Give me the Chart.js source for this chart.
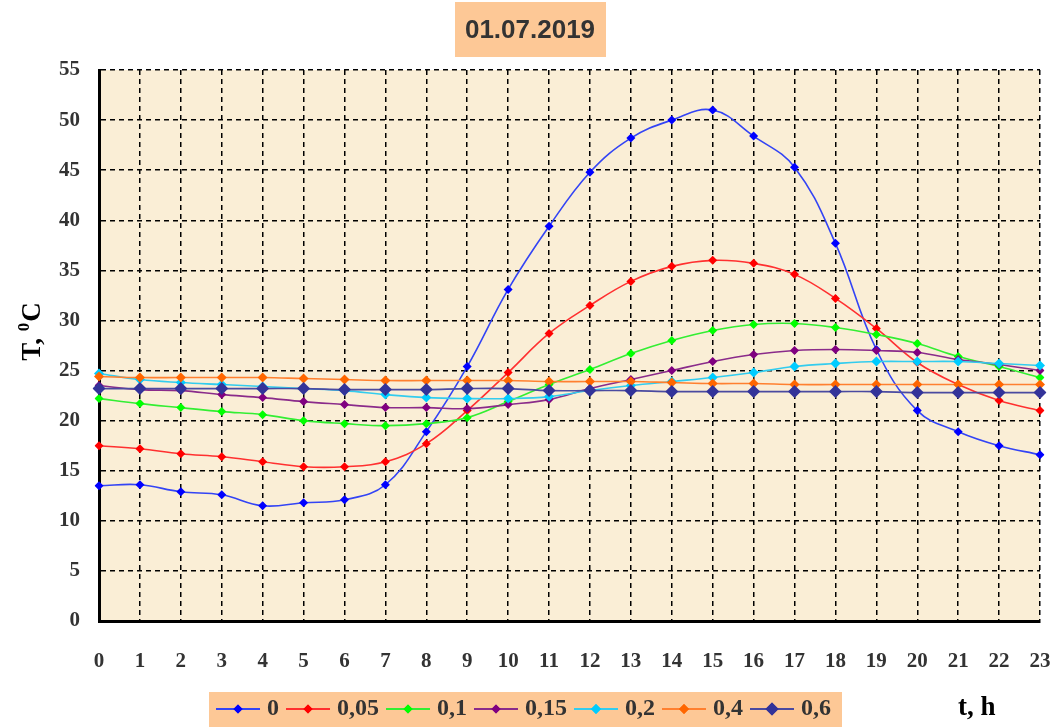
<!DOCTYPE html>
<html>
<head>
<meta charset="UTF-8">
<style>
    html, body { margin: 0; padding: 0; background: #fff; }
</style>
</head>
<body>
<div>
    <canvas id="myChart" width="1055" height="727"></canvas>
</div>

<script src="https://cdn.jsdelivr.net/npm/chart.js"></script>

<script>
    // hours of the day
    const hours = ['0','1','2','3','4','5','6','7','8','9','10','11','12','13','14','15','16','17','18','19','20','21','22','23'];

    // temperature, degrees C, one list per depth
    const t_0    = [13.5, 13.6, 12.9, 12.6, 11.5, 11.8, 12.1, 13.6, 18.9, 25.4, 33.1, 39.4, 44.8, 48.2, 50.0, 51.0, 48.4, 45.3, 37.7, 27.1, 21.0, 18.9, 17.5, 16.6];
    const t_005  = [17.5, 17.2, 16.7, 16.4, 15.9, 15.4, 15.4, 15.9, 17.7, 21.0, 24.8, 28.7, 31.5, 33.9, 35.4, 36.0, 35.7, 34.6, 32.2, 29.2, 25.8, 23.6, 22.0, 21.0];
    const t_01   = [22.2, 21.7, 21.3, 20.9, 20.6, 20.0, 19.7, 19.5, 19.7, 20.3, 21.9, 23.6, 25.1, 26.7, 28.0, 29.0, 29.6, 29.7, 29.3, 28.6, 27.7, 26.4, 25.4, 24.3];
    const t_015  = [23.5, 23.1, 23.0, 22.6, 22.3, 21.9, 21.6, 21.3, 21.3, 21.2, 21.6, 22.1, 23.2, 24.1, 25.0, 25.9, 26.6, 27.0, 27.1, 27.0, 26.8, 26.1, 25.6, 25.0];
    const t_02   = [24.7, 24.1, 23.8, 23.6, 23.4, 23.2, 23.0, 22.6, 22.3, 22.2, 22.2, 22.4, 23.0, 23.5, 23.9, 24.3, 24.8, 25.4, 25.7, 25.9, 25.9, 25.9, 25.7, 25.5];
    const t_04   = [24.4, 24.3, 24.3, 24.3, 24.3, 24.2, 24.1, 24.0, 24.0, 24.0, 24.0, 23.9, 23.9, 23.9, 23.8, 23.7, 23.7, 23.6, 23.6, 23.6, 23.6, 23.6, 23.6, 23.6];
    const t_06   = [23.2, 23.2, 23.2, 23.2, 23.2, 23.2, 23.1, 23.1, 23.1, 23.2, 23.2, 23.0, 23.0, 23.0, 22.9, 22.9, 22.9, 22.9, 22.9, 22.9, 22.8, 22.8, 22.8, 22.8];

    const seriesNames = ['0', '0,05', '0,1', '0,15', '0,2', '0,4', '0,6'];
    const yTicks = [0, 5, 10, 15, 20, 25, 30, 35, 40, 45, 50, 55];

    const titleText = '01.07.2019';
    const yTitle = ['T, ', '0', 'C'];
    const xTitle = 't, h';

    const serif = '"Liberation Serif", "Times New Roman", serif';
    const peach = '#fdc896';

    function series(i, data, line, marker, r) {
        return {
            label: seriesNames[i],
            data: data,
            borderColor: line,
            borderWidth: 1.6,
            pointStyle: 'rectRot',
            pointRadius: r,
            pointBackgroundColor: marker,
            pointBorderColor: marker,
            pointBorderWidth: 0,
            tension: 0.4,
            order: 10 - i   // later series on top, like the original
        };
    }

    const decor = {
        id: 'decor',
        beforeDraw(chart) {
            const { ctx, chartArea: a } = chart;
            ctx.save();
            ctx.fillStyle = '#fff';
            ctx.fillRect(0, 0, chart.width, chart.height);
            ctx.fillStyle = '#faeed6';
            ctx.fillRect(a.left, a.top, a.right - a.left, a.bottom - a.top);
            ctx.restore();
        },
        afterDraw(chart) {
            const ctx = chart.ctx;
            ctx.save();

            // date box
            ctx.fillStyle = peach;
            ctx.fillRect(455, 2, 151, 55);
            ctx.fillStyle = '#333';
            ctx.font = 'bold 26px "Liberation Sans", Arial, sans-serif';
            ctx.textAlign = 'center';
            ctx.textBaseline = 'middle';
            ctx.fillText(titleText, 530, 31);

            // y axis title, rotated, with superscript 0
            ctx.save();
            ctx.translate(40, 332);
            ctx.rotate(-Math.PI / 2);
            ctx.textAlign = 'left';
            ctx.textBaseline = 'alphabetic';
            ctx.font = 'bold 27px ' + serif;
            const w1 = ctx.measureText(yTitle[0]).width;
            ctx.font = 'bold 17px ' + serif;
            const w2 = ctx.measureText(yTitle[1]).width;
            ctx.font = 'bold 27px ' + serif;
            const w3 = ctx.measureText(yTitle[2]).width;
            let tx = -(w1 + w2 + w3) / 2;
            ctx.fillStyle = '#000';
            ctx.fillText(yTitle[0], tx, 0);
            ctx.font = 'bold 17px ' + serif;
            ctx.fillText(yTitle[1], tx + w1, -11);
            ctx.font = 'bold 27px ' + serif;
            ctx.fillText(yTitle[2], tx + w1 + w2 + 1, 0);
            ctx.restore();

            // x axis title
            ctx.fillStyle = '#000';
            ctx.font = 'bold 27px ' + serif;
            ctx.textAlign = 'left';
            ctx.textBaseline = 'middle';
            ctx.fillText(xTitle, 958, 708);

            // legend
            ctx.fillStyle = peach;
            ctx.fillRect(209, 692, 633, 35);
            let x = 216;
            const y = 709;
            ctx.font = 'bold 24px ' + serif;
            chart.data.datasets.forEach(ds => {
                ctx.strokeStyle = ds.borderColor;
                ctx.lineWidth = 2;
                ctx.beginPath();
                ctx.moveTo(x, y);
                ctx.lineTo(x + 44, y);
                ctx.stroke();
                ctx.fillStyle = ds.pointBackgroundColor;
                Chart.helpers.drawPoint(ctx, { pointStyle: 'rectRot', radius: ds.pointRadius, borderWidth: 0 }, x + 22, y);
                ctx.fill();
                ctx.fillStyle = '#333';
                ctx.textBaseline = 'middle';
                ctx.fillText(ds.label, x + 51, y);
                x += 51 + ctx.measureText(ds.label).width + 7;
            });
            ctx.restore();
        }
    };

    const tickFont = { family: serif, size: 21, weight: 'bold' };

    new Chart(document.getElementById('myChart'), {
        type: 'line',
        data: {
            labels: hours,
            datasets: [
                series(0, t_0,   '#3344f5', '#0000ff', 4.5),
                series(1, t_005, '#ff3030', '#ff0000', 4.5),
                series(2, t_01,  '#33ee33', '#00ff00', 4.5),
                series(3, t_015, '#8a2b8a', '#800080', 4.5),
                series(4, t_02,  '#33ccee', '#00ccff', 5),
                series(5, t_04,  '#ff8030', '#ff6600', 5),
                series(6, t_06,  '#4a4aa0', '#333399', 6.5)
            ]
        },
        options: {
            responsive: false,
            devicePixelRatio: 1,
            animation: false,
            layout: { padding: { left: 0, right: 15, top: 70, bottom: 0 } },
            plugins: {
                legend: { display: false },
                title: { display: false },
                tooltip: { enabled: false }
            },
            scales: {
                x: {
                    offset: false,
                    grid: { color: '#000', lineWidth: 1.5, drawTicks: false, offset: false },
                    border: { display: true, color: '#000', width: 3, dash: [5, 4] },
                    ticks: { font: tickFont, color: '#333', padding: 28, maxRotation: 0, autoSkip: false },
                    afterFit(scale) {
                        scale.height = 106;
                        scale.paddingLeft = 0;
                        scale.paddingRight = 0;
                    }
                },
                y: {
                    min: yTicks[0],
                    max: yTicks[yTicks.length - 1],
                    grid: { color: '#000', lineWidth: 1.5, drawTicks: false },
                    border: { display: true, color: '#000', width: 3, dash: [5, 4] },
                    ticks: { stepSize: yTicks[1] - yTicks[0], font: tickFont, color: '#333', padding: 19 },
                    afterFit(scale) { scale.width = 99; }
                }
            }
        },
        plugins: [decor]
    });
</script>
</body>
</html>
